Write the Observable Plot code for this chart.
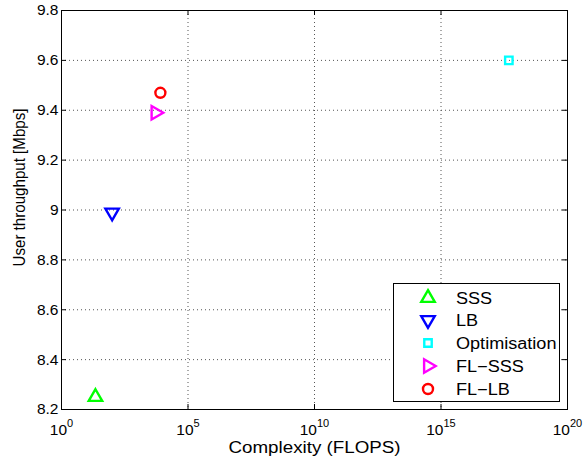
<!DOCTYPE html>
<html><head><meta charset="utf-8">
<script src="https://cdn.jsdelivr.net/npm/d3@7"></script>
<script src="https://cdn.jsdelivr.net/npm/@observablehq/plot@0.6"></script>
<style>
body{margin:0;background:#fff;}
#wrap{position:relative;width:584px;height:461px;font-family:"Liberation Sans",Arial,Helvetica,sans-serif;}
#legend{position:absolute;left:393px;top:283px;width:165px;height:117px;border:1px solid #000;background:#fff;}
.row{position:absolute;left:0;width:165px;height:23px;}
.row svg{position:absolute;left:24px;top:1px;}
.row span{position:absolute;left:62px;top:2px;font-size:16px;line-height:20px;transform:scaleX(1.13);transform-origin:left center;white-space:nowrap;color:#000;}
</style></head><body><div id="wrap"></div>
<script>
// ---- data ----
const series = ["SSS", "LB", "Optimisation", "FL\u2212SSS", "FL\u2212LB"];
const complexity = [22, 100, 4.8e17, 5.2e3, 8.1e3];
const throughput = [8.25, 8.99, 9.60, 9.39, 9.47];
const xTicks = [1e0, 1e5, 1e10, 1e15, 1e20];
const yTicks = [8.2, 8.4, 8.6, 8.8, 9.0, 9.2, 9.4, 9.6, 9.8];
const xLabel = "Complexity (FLOPS)";
const yLabel = "User throughput [Mbps]";

// ---- styles ----
const colors = ["#00ff00", "#0000ff", "#00ffff", "#ff00ff", "#ff0000"];
const symbols = ["triangle", "triangle", "square", "triangle", "circle"];
const rotations = [0, 180, 0, 90, 0];
const radii = [5, 5, 4.2, 5, 5];

const W = 584, H = 461, mL = 61, mR = 17, mT = 10, mB = 52;
const pw = W - mL - mR, ph = H - mT - mB;
const font = '"Liberation Sans", Arial, Helvetica, sans-serif';

const data = series.map((s, i) => ({series: s, complexity: complexity[i], throughput: throughput[i]}));
const gridStyle = {stroke: "#555", strokeOpacity: 1, strokeDasharray: "1,3"};

const plot = Plot.plot({
  width: W, height: H,
  marginLeft: mL, marginRight: mR, marginTop: mT, marginBottom: mB,
  style: {fontFamily: font, fontSize: "15.5px", background: "#fff", color: "#000"},
  x: {type: "log", domain: [xTicks[0], xTicks[xTicks.length - 1]]},
  y: {domain: [yTicks[0], yTicks[yTicks.length - 1]]},
  marks: [
    Plot.gridX(xTicks.slice(1, -1), gridStyle),
    Plot.gridY(yTicks.slice(1, -1), gridStyle),
    Plot.tickX(xTicks, {x: d => d, insetTop: ph - 5, stroke: "#000"}),
    Plot.tickX(xTicks, {x: d => d, insetBottom: ph - 5, stroke: "#000"}),
    Plot.tickY(yTicks, {y: d => d, insetRight: pw - 5, stroke: "#000"}),
    Plot.tickY(yTicks, {y: d => d, insetLeft: pw - 5, stroke: "#000"}),
    Plot.axisX(xTicks, {tickSize: 0, tickPadding: 14, label: null,
      tickFormat: d => "10^" + Math.round(Math.log10(d))}),
    Plot.axisY(yTicks, {tickSize: 0, tickPadding: 3, label: null,
      tickFormat: d => String(+d.toFixed(1))}),
    ...data.map((d, i) => Plot.dot([d], {
      x: "complexity", y: "throughput",
      symbol: symbols[i], rotate: rotations[i], r: radii[i],
      stroke: colors[i], strokeWidth: 2.4, fill: "none"
    })),
    Plot.frame({stroke: "#000"}),
    Plot.text([xLabel], {text: d => d, frameAnchor: "bottom", dy: 38, fontSize: 16, textAnchor: "middle", lineAnchor: "middle"}),
    Plot.text([yLabel], {text: d => d, frameAnchor: "left", dx: -41.5, dy: -22.5, rotate: -90, fontSize: 16, textAnchor: "middle", lineAnchor: "middle"})
  ]
});

// superscript exponents on x tick labels
d3.select(plot).selectAll('g[aria-label="x-axis tick label"] text').each(function () {
  const t = this.textContent;
  if (!t.includes("^")) return;
  const [b, e] = t.split("^");
  const sel = d3.select(this);
  sel.text(null);
  sel.append("tspan").text(b);
  sel.append("tspan").attr("dy", -8).attr("font-size", 11).text(e);
});
// stretch axis titles to match reference width
d3.select(plot).selectAll("text").each(function () {
  const t = this.textContent;
  if (t === xLabel) d3.select(this).attr("textLength", 172).attr("lengthAdjust", "spacingAndGlyphs");
  if (t === yLabel) d3.select(this).attr("textLength", 158).attr("lengthAdjust", "spacingAndGlyphs");
});

const wrap = document.getElementById("wrap");
wrap.appendChild(plot);

// legend
const legend = document.createElement("div");
legend.id = "legend";
const symMap = {triangle: d3.symbolTriangle, square: d3.symbolSquare, circle: d3.symbolCircle};
series.forEach((s, i) => {
  const row = document.createElement("div");
  row.className = "row";
  row.style.top = (2.5 + i * 22.8) + "px";
  const svg = d3.create("svg").attr("width", 20).attr("height", 20);
  svg.append("path")
    .attr("d", d3.symbol(symMap[symbols[i]], Math.PI * radii[i] * radii[i])())
    .attr("transform", `translate(10,10) rotate(${rotations[i]})`)
    .attr("fill", "none").attr("stroke", colors[i]).attr("stroke-width", 2.4);
  row.appendChild(svg.node());
  const span = document.createElement("span");
  span.textContent = s;
  row.appendChild(span);
  legend.appendChild(row);
});
wrap.appendChild(legend);
</script>
</body></html>
